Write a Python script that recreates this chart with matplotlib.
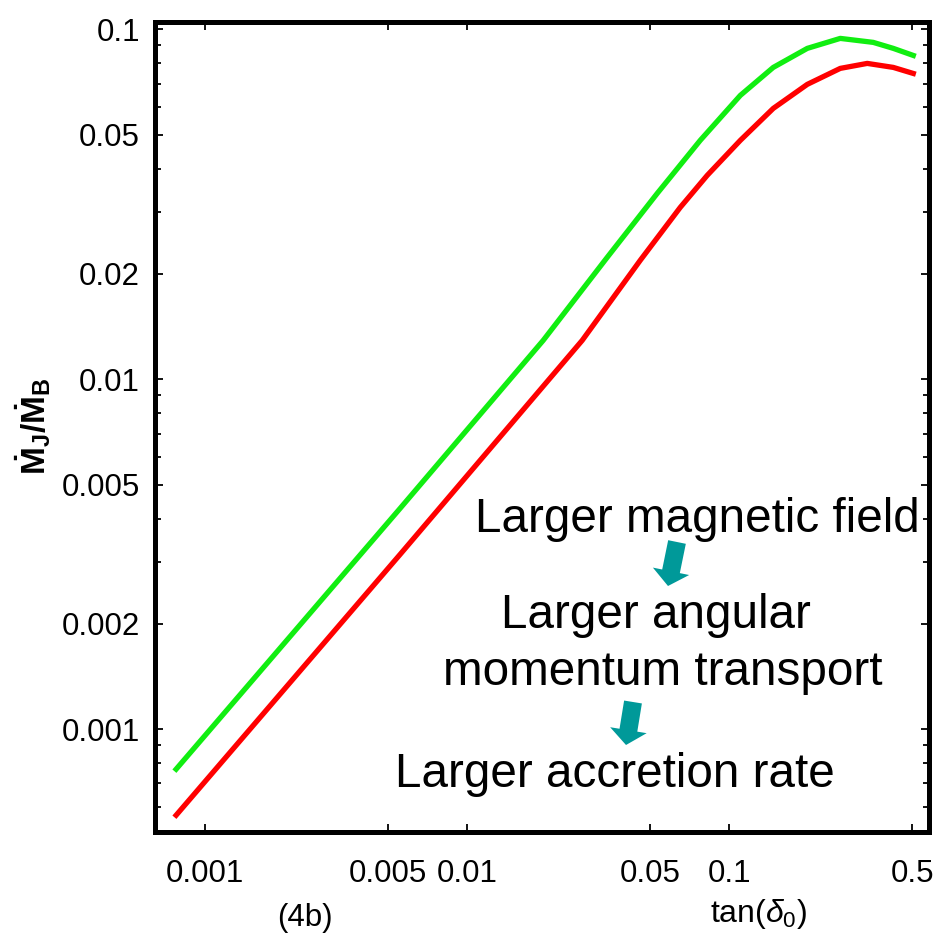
import matplotlib
matplotlib.use("Agg")
import matplotlib.pyplot as plt
from matplotlib.patches import FancyArrow
from matplotlib.ticker import FixedLocator, FixedFormatter, NullLocator

plt.rcParams["font.family"] = ["Liberation Sans", "DejaVu Sans"]
plt.rcParams["mathtext.fontset"] = "custom"
plt.rcParams["mathtext.rm"] = "Liberation Sans"
plt.rcParams["mathtext.it"] = "Liberation Sans:italic"
plt.rcParams["mathtext.bf"] = "Liberation Sans:bold"

# accretion rate vs. tan(delta_0), two field strengths
tan_green = [0.000775, 0.00555, 0.0195, 0.03423, 0.05312, 0.07748, 0.1102, 0.1472,
             0.1985, 0.2652, 0.3544, 0.4226, 0.5038]
mdot_green = [0.000769, 0.00428, 0.01292, 0.02232, 0.034, 0.04818, 0.06477, 0.07787,
              0.08826, 0.09425, 0.09181, 0.08826, 0.08425]

tan_red = [0.000775, 0.00555, 0.02747, 0.04574, 0.06501, 0.08241, 0.1102, 0.1472,
           0.1985, 0.2652, 0.3362, 0.4226, 0.5038]
mdot_red = [0.000568, 0.003162, 0.01292, 0.02188, 0.031, 0.03828, 0.04818, 0.05946,
            0.06965, 0.07737, 0.07995, 0.07787, 0.07483]

xticks = [0.001, 0.005, 0.01, 0.05, 0.1, 0.5]
xtick_labels = ["0.001", "0.005", "0.01", "0.05", "0.1", "0.5"]
yticks = [0.001, 0.002, 0.005, 0.01, 0.02, 0.05, 0.1]
ytick_labels = ["0.001", "0.002", "0.005", "0.01", "0.02", "0.05", "0.1"]
yminor = [0.0006, 0.0007, 0.0008, 0.0009, 0.003, 0.004, 0.006, 0.007, 0.008, 0.009,
          0.03, 0.04, 0.06, 0.07, 0.08, 0.09]

fig = plt.figure(figsize=(9.34, 9.34), dpi=100)
ax = fig.add_axes([0.166, 0.109, 0.829, 0.867])

ax.plot(tan_green, mdot_green, color="#11ee11", lw=3.8, solid_joinstyle="round")
ax.plot(tan_red, mdot_red, color="#ff0000", lw=3.8, solid_joinstyle="round")

ax.set_xscale("log")
ax.set_yscale("log")
ax.set_xlim(0.000644, 0.58)
ax.set_ylim(0.000508, 0.1047)

ax.xaxis.set_major_locator(FixedLocator(xticks))
ax.xaxis.set_major_formatter(FixedFormatter(xtick_labels))
ax.xaxis.set_minor_locator(NullLocator())
ax.yaxis.set_major_locator(FixedLocator(yticks))
ax.yaxis.set_major_formatter(FixedFormatter(ytick_labels))
ax.yaxis.set_minor_locator(FixedLocator(yminor))

for s in ax.spines.values():
    s.set_linewidth(3.6)
ax.tick_params(which="both", direction="in", top=True, right=True, width=1.3,
               labelsize=22.5)
ax.tick_params(which="major", length=6)
ax.tick_params(which="minor", length=4)
ax.tick_params(axis="x", pad=19)
ax.tick_params(axis="y", pad=11)

# axis labels
fig.text(33 / 934, 1 - 426 / 934, r"$\mathbf{\dot{M}_J/\dot{M}_B}$", rotation=90,
         ha="center", va="center", fontsize=24)
fig.text(758 / 934, 1 - 914 / 934, r"tan($\delta_0$)", ha="center", va="center",
         fontsize=23)
fig.text(305 / 934, 1 - 918 / 934, "(4b)", ha="center", va="center", fontsize=22.5)

# cause -> effect annotation
notes = [("Larger magnetic field", 697, 532),
         ("Larger angular", 656, 628),
         ("momentum transport", 663, 685),
         ("Larger accretion rate", 615, 787)]
for txt, px, py in notes:
    fig.text(px / 934, 1 - py / 934, txt, ha="center", va="baseline", fontsize=34.3)

for (x0, y0), (x1, y1) in [((677, 542), (668, 586)), ((633, 702), (626, 745))]:
    fig.add_artist(FancyArrow(x0 / 934, 1 - y0 / 934, (x1 - x0) / 934, -(y1 - y0) / 934,
                              width=18 / 934, head_width=37 / 934, head_length=15 / 934,
                              length_includes_head=True, color="#009999", lw=0,
                              transform=fig.transFigure))

fig.savefig("out.png", dpi=100)
